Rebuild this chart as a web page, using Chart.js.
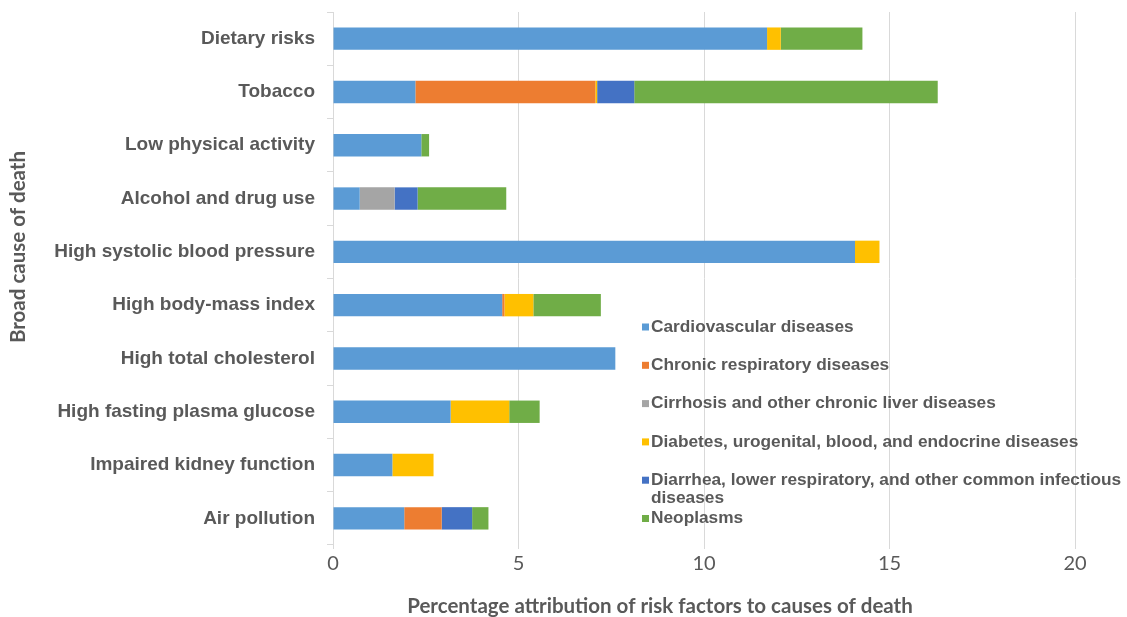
<!DOCTYPE html>
<html>
<head>
<meta charset="utf-8">
<script src="https://cdn.jsdelivr.net/npm/chart.js@4"></script>
<style>
  html, body { margin: 0; padding: 0; background: #ffffff; }
  #wrap { width: 1127px; height: 617px; position: relative; }
</style>
</head>
<body>
<div id="wrap"><canvas id="chart"></canvas></div>
<script>
// Risk factors (rows, top to bottom)
const categories = [
  'Dietary risks',
  'Tobacco',
  'Low physical activity',
  'Alcohol and drug use',
  'High systolic blood pressure',
  'High body-mass index',
  'High total cholesterol',
  'High fasting plasma glucose',
  'Impaired kidney function',
  'Air pollution'
];

// Percentage attribution per cause of death
const cardiovascular = [11.70, 2.22, 2.38, 0.72, 14.07, 4.56, 7.61, 3.17, 1.60, 1.92];
const chronicRespiratory = [0, 4.85, 0, 0, 0, 0.06, 0, 0, 0, 1.01];
const cirrhosis = [0, 0, 0, 0.94, 0, 0, 0, 0, 0, 0];
const diabetes = [0.37, 0.05, 0, 0, 0.66, 0.78, 0, 1.58, 1.11, 0];
const infectious = [0, 1.00, 0, 0.62, 0, 0, 0, 0, 0, 0.82];
const neoplasms = [2.20, 8.18, 0.21, 2.39, 0, 1.82, 0, 0.82, 0, 0.44];

const seriesNames = [
  'Cardiovascular diseases',
  'Chronic respiratory diseases',
  'Cirrhosis and other chronic liver diseases',
  'Diabetes, urogenital, blood, and endocrine diseases',
  'Diarrhea, lower respiratory, and other common infectious diseases',
  'Neoplasms'
];
const xTicks = [0, 5, 10, 15, 20];

const colors = ['#5B9BD5', '#ED7D31', '#A5A5A5', '#FFC000', '#4472C4', '#70AD47'];
const seriesValues = [cardiovascular, chronicRespiratory, cirrhosis, diabetes, infectious, neoplasms];

const labelGray = '#595959';
const gridGray = '#D9D9D9';

// Legend drawn inside the plot, with wrapping for long entries
const insideLegend = {
  id: 'insideLegend',
  afterDraw(chart) {
    const ctx = chart.ctx;
    const x0 = 642, textX = 651, maxW = 480;
    let y = 327;
    const step = 38.3, lineH = 18.5;
    ctx.save();
    ctx.font = 'bold 17.3px "Liberation Sans", Arial, sans-serif';
    ctx.textBaseline = 'middle';
    ctx.textAlign = 'left';
    chart.data.datasets.forEach((ds) => {
      const words = ds.label.split(' ');
      const lines = [];
      let cur = '';
      words.forEach(w => {
        const t = cur ? cur + ' ' + w : w;
        if (ctx.measureText(t).width > maxW && cur) { lines.push(cur); cur = w; }
        else cur = t;
      });
      if (cur) lines.push(cur);
      ctx.fillStyle = ds.backgroundColor;
      ctx.fillRect(x0, y - 3.5, 7, 7);
      ctx.fillStyle = labelGray;
      lines.forEach((ln, i) => ctx.fillText(ln, textX, y + i * lineH));
      y += lines.length > 1 ? lineH * (lines.length - 1) + (step - lineH) : step;
    });
    ctx.restore();
  }
};

// Axis titles
const axisTitles = {
  id: 'axisTitles',
  afterDraw(chart) {
    const ctx = chart.ctx;
    ctx.save();
    ctx.fillStyle = labelGray;
    ctx.font = 'bold 20.5px Lato, "Open Sans", sans-serif';
    ctx.textAlign = 'center';
    ctx.textBaseline = 'middle';
    ctx.fillText('Percentage attribution of risk factors to causes of death', 660, 606);
    ctx.translate(18, 247);
    ctx.rotate(-Math.PI / 2);
    ctx.fillText('Broad cause of death', 0, 0);
    ctx.restore();
  }
};

new Chart(document.getElementById('chart'), {
  type: 'bar',
  data: {
    labels: categories,
    datasets: seriesNames.map((name, i) => ({
      label: name,
      data: seriesValues[i],
      backgroundColor: colors[i],
      borderWidth: 0,
      barPercentage: 0.42,
      categoryPercentage: 1.0
    }))
  },
  options: {
    indexAxis: 'y',
    responsive: true,
    maintainAspectRatio: false,
    animation: false,
    layout: { padding: { left: 0, right: 52, top: 12, bottom: 0 } },
    plugins: {
      legend: { display: false },
      tooltip: { enabled: false }
    },
    scales: {
      x: {
        stacked: true,
        min: 0,
        max: 20,
        afterBuildTicks(scale) { scale.ticks = xTicks.map(v => ({ value: v })); },
        afterFit(scale) { scale.height = 72; scale.paddingLeft = 0; scale.paddingRight = 0; },
        grid: { color: gridGray, lineWidth: 1, drawTicks: true, tickLength: 4 },
        border: { display: false },
        ticks: {
          color: labelGray,
          padding: 3,
          font: { family: 'Lato, "Open Sans", sans-serif', size: 20 }
        }
      },
      y: {
        stacked: true,
        afterFit(scale) { scale.width = 333; scale.paddingTop = 0; scale.paddingBottom = 0; },
        grid: { color: gridGray, drawOnChartArea: false, drawTicks: true, tickLength: 6 },
        border: { display: true, color: gridGray, width: 1 },
        ticks: {
          color: labelGray,
          padding: 12,
          font: { family: '"Liberation Sans", Arial, sans-serif', size: 19, weight: 'bold' }
        }
      }
    }
  },
  plugins: [insideLegend, axisTitles]
});
</script>
</body>
</html>
